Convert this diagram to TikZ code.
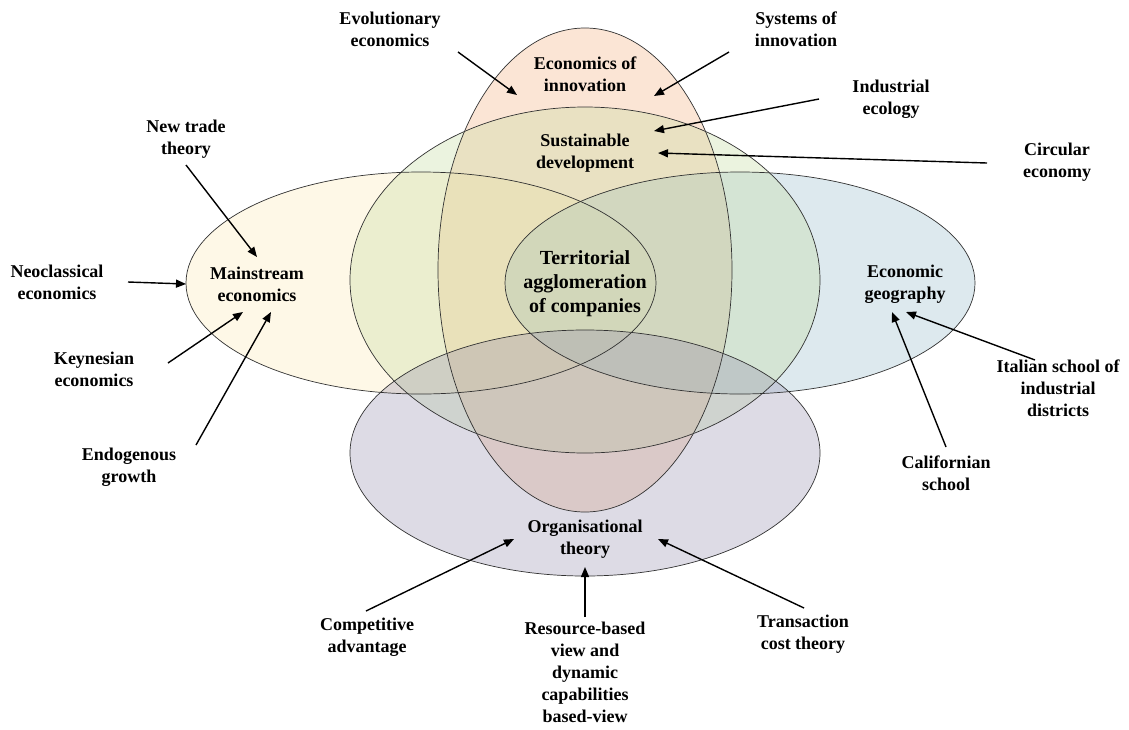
\documentclass[tikz,border=0pt]{standalone}
\usepackage{fontspec}
\setmainfont{Liberation Serif}
\usetikzlibrary{arrows.meta}

\definecolor{innovc}{RGB}{245,172,118}
\definecolor{mainc}{RGB}{252,232,178}
\definecolor{geoc}{RGB}{145,185,202}
\definecolor{sustc}{RGB}{192,218,152}
\definecolor{orgc}{RGB}{145,138,172}
\definecolor{rimc}{RGB}{50,50,50}

\tikzset{
  lbl/.style={align=center, inner sep=0pt, font=\fontsize{18}{22}\selectfont\bfseries},
  biglbl/.style={align=center, inner sep=0pt, font=\fontsize{20}{24}\selectfont\bfseries},
  zone/.style={fill opacity=0.3},
  rim/.style={draw=rimc, line width=0.7pt},
  feed/.style={line width=1.4pt, -{Triangle[length=10pt,width=8pt]}}
}

\begin{document}
\begin{tikzpicture}[x=1pt, y=-1pt]
\useasboundingbox (0,0) rectangle (1129,729);
\fill[white] (0,0) rectangle (1129,729);

% translucent fields of the diagram
\fill[zone, innovc] (585,270) ellipse [x radius=147, y radius=242];
\fill[zone, mainc]  (421,283) ellipse [x radius=235, y radius=111];
\fill[zone, geoc]   (740,283) ellipse [x radius=235, y radius=111];
\fill[zone, sustc]  (585,280) ellipse [x radius=235, y radius=173];
\fill[zone, orgc]   (585,453) ellipse [x radius=235, y radius=123];

% outlines on top of all fills
\draw[rim] (585,270) ellipse [x radius=147, y radius=242];
\draw[rim] (421,283) ellipse [x radius=235, y radius=111];
\draw[rim] (740,283) ellipse [x radius=235, y radius=111];
\draw[rim] (585,280) ellipse [x radius=235, y radius=173];
\draw[rim] (585,453) ellipse [x radius=235, y radius=123];

% field titles
\node[lbl] (eoi) at (585,74) {Economics of\\innovation};
\node[lbl] (sus) at (585,153) {Sustainable\\development};
\node[lbl] (mse) at (257,284) {Mainstream\\economics};
\node[lbl] (geo) at (905,284) {Economic\\geography};
\node[lbl] (org) at (585,539) {Organisational\\theory};
\node[biglbl] (terr) at (585,284) {Territorial\\agglomeration\\of companies};

% contributing schools
\node[lbl] (evo) at (390,29) {Evolutionary\\economics};
\node[lbl] (sys) at (796,29) {Systems of\\innovation};
\node[lbl] (ind) at (891,99) {Industrial\\ecology};
\node[lbl] (circ) at (1057,162) {Circular\\economy};
\node[lbl] (ntt) at (186,139) {New trade\\theory};
\node[lbl] (neo) at (57,282) {Neoclassical\\economics};
\node[lbl] (key) at (94,369) {Keynesian\\economics};
\node[lbl] (endo) at (129,467) {Endogenous\\growth};
\node[lbl] (ital) at (1058,388) {Italian school of\\industrial\\districts};
\node[lbl] (cal) at (946,473) {Californian\\school};
\node[lbl] (comp) at (367,637) {Competitive\\advantage};
\node[lbl] (rbv) at (585,672) {Resource-based\\view and\\dynamic\\capabilities\\based-view};
\node[lbl] (trans) at (803,634) {Transaction\\cost theory};

% arrow end points
\coordinate (evoS) at (458,52);   \coordinate (evoT) at (517,95);
\coordinate (sysS) at (729,52);   \coordinate (sysT) at (654,96);
\coordinate (indS) at (819,99);   \coordinate (indT) at (654,131);
\coordinate (circS) at (987,163); \coordinate (circT) at (658,153);
\coordinate (nttS) at (186,165);  \coordinate (nttT) at (257,257);
\coordinate (neoS) at (128,282);  \coordinate (neoT) at (186,284);
\coordinate (keyS) at (168,363);  \coordinate (keyT) at (243,312);
\coordinate (endoS) at (196,445); \coordinate (endoT) at (271,312);
\coordinate (italS) at (1035,360);\coordinate (italT) at (906,312);
\coordinate (calS) at (946,447);  \coordinate (calT) at (892,312);
\coordinate (compS) at (366,611); \coordinate (compT) at (514,539);
\coordinate (rbvS) at (585,617);  \coordinate (rbvT) at (585,567);
\coordinate (transS) at (804,608);\coordinate (transT) at (658,539);

\draw[feed] (evoS) -- (evoT);
\draw[feed] (sysS) -- (sysT);
\draw[feed] (indS) -- (indT);
\draw[feed] (circS) -- (circT);
\draw[feed] (nttS) -- (nttT);
\draw[feed] (neoS) -- (neoT);
\draw[feed] (keyS) -- (keyT);
\draw[feed] (endoS) -- (endoT);
\draw[feed] (italS) -- (italT);
\draw[feed] (calS) -- (calT);
\draw[feed] (compS) -- (compT);
\draw[feed] (rbvS) -- (rbvT);
\draw[feed] (transS) -- (transT);
\end{tikzpicture}
\end{document}
